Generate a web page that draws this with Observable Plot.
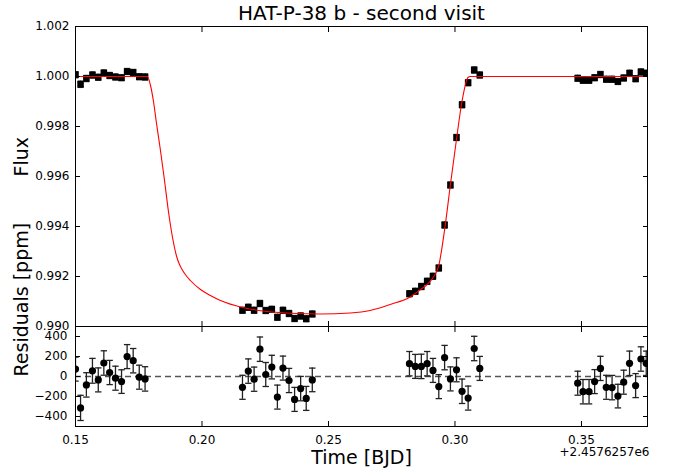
<!DOCTYPE html>
<html><head><meta charset="utf-8">
<script src="https://cdn.jsdelivr.net/npm/d3@7"></script>
<script src="https://cdn.jsdelivr.net/npm/@observablehq/plot@0.6"></script>
<style>
body{margin:0;background:#fff;font-family:"DejaVu Sans";}
#chart{position:relative;width:678px;height:470px;}
#chart svg{position:absolute;left:0;}
</style>
</head><body><div id="chart"></div>
<script>
// Observation times (BJD - 2457625.7)
const times = [
  0.1500, 0.1520, 0.1543, 0.1567, 0.1590, 0.1612, 0.1635, 0.1658, 0.1682, 0.1704, 0.1728, 0.1752, 0.1775,
  0.2160, 0.2183, 0.2206, 0.2229, 0.2252, 0.2276, 0.2298, 0.2320, 0.2344, 0.2366, 0.2390, 0.2412, 0.2436,
  0.2820, 0.2843, 0.2867, 0.2890, 0.2913, 0.2936, 0.2959, 0.2982, 0.3006, 0.3028, 0.3052, 0.3076, 0.3098,
  0.3485, 0.3506, 0.3530, 0.3552, 0.3575, 0.3598, 0.3621, 0.3644, 0.3667, 0.3690, 0.3714, 0.3735, 0.3756
];
// Relative flux
const flux = [
  1.00007, 0.99969, 0.99992, 1.00006, 0.99997, 1.00014, 1.00004, 0.99998, 0.99995, 1.00020, 1.00016, 0.99999, 0.99998,
  0.99065, 0.99077, 0.99065, 0.99092, 0.99064, 0.99069, 0.99037, 0.99065, 0.99052, 0.99032, 0.99042, 0.99031, 0.99050,
  0.99131, 0.99141, 0.99160, 0.99181, 0.99201, 0.99234, 0.99406, 0.99566, 0.99756, 0.99887, 0.99975, 1.00026, 1.00006,
  0.99993, 0.99985, 0.99985, 0.99995, 1.00008, 0.99989, 0.99989, 0.99980, 0.99994, 1.00013, 0.99991, 1.00018, 1.00013
];
// Residuals [ppm]
const residuals = [
  74, -314, -84, 57, -34, 135, 40, -17, -51, 199, 158, -7, -24,
  -108, 54, -27, 273, 20, 94, -206, 84, -40, -229, -121, -219, -34,
  128, 101, 101, 128, 61, -101, 189, -24, 67, -148, -216, 280, 81,
  -67, -152, -152, -51, 81, -108, -111, -196, -57, 132, -91, 175, 132
];
// Uncertainties [ppm]
const errors = [
  120, 126, 122, 124, 120, 122, 121, 120, 118, 120, 122, 120, 122,
  120, 122, 121, 122, 120, 118, 120, 120, 121, 120, 122, 120, 118,
  122, 120, 122, 122, 120, 120, 122, 120, 120, 122, 120, 122, 120,
  120, 122, 122, 120, 121, 120, 122, 118, 120, 122, 120, 122, 122
];
// Transit model curve
const modelTime = [
  0.1500, 0.1784, 0.1796, 0.1808, 0.1820, 0.1836, 0.1852, 0.1867, 0.1883, 0.1899, 0.1911, 0.1919,
  0.1934, 0.1954, 0.1994, 0.2033, 0.2073, 0.2160, 0.2242, 0.2349, 0.2468, 0.2586, 0.2665, 0.2744,
  0.2823, 0.2867, 0.2890, 0.2913, 0.2936, 0.2959, 0.2982, 0.3006, 0.3028, 0.3052, 0.3060, 0.3761
];
const modelFlux = [
  1.00000, 1.00000, 0.99966, 0.99902, 0.99814, 0.99703, 0.99583, 0.99463, 0.99359, 0.99283, 0.99248, 0.99232,
  0.99208, 0.99184, 0.99148, 0.99124, 0.99104, 0.99076, 0.99062, 0.99053, 0.99050, 0.99054, 0.99064, 0.99088,
  0.99118, 0.99150, 0.99168, 0.99195, 0.99244, 0.99387, 0.99568, 0.99749, 0.99902, 0.99997, 1.00000, 1.00000
];
const xTicks = [0.15, 0.20, 0.25, 0.30, 0.35];
const fluxTicks = [0.990, 0.992, 0.994, 0.996, 0.998, 1.000, 1.002];
const resTicks = [-400, -200, 0, 200, 400];
const xDomain = [0.15, 0.3761];

const obs = times.map((t, i) => ({t, f: flux[i], r: residuals[i], e: errors[i]}));
const model = modelTime.map((t, i) => ({t, f: modelFlux[i]}));

const cap = {draw(ctx, size) { const w = Math.sqrt(size / Math.PI); ctx.moveTo(-w, 0); ctx.lineTo(w, 0); }};
const font = "DejaVu Sans";
const baseStyle = {fontFamily: font, fontSize: "12px", background: "transparent", overflow: "visible", color: "black"};
const minus = d => d < 0 ? "\u2212" + Math.abs(d) : String(d);

const topPanel = Plot.plot({
  width: 678, height: 340,
  marginLeft: 75, marginRight: 31, marginTop: 26, marginBottom: 14,
  x: {domain: xDomain},
  y: {domain: [0.990, 1.002]},
  style: baseStyle,
  marks: [
    Plot.ruleX(obs, {x: "t", y1: d => d.f - d.e * 1e-6, y2: d => d.f + d.e * 1e-6, stroke: "#222", strokeWidth: 1.3, clip: true}),
    Plot.dot(obs, {x: "t", y: d => d.f - d.e * 1e-6, symbol: cap, r: 3, fill: "none", stroke: "#222", strokeWidth: 1.3, clip: true}),
    Plot.dot(obs, {x: "t", y: d => d.f + d.e * 1e-6, symbol: cap, r: 3, fill: "none", stroke: "#222", strokeWidth: 1.3, clip: true}),
    Plot.dot(obs, {x: "t", y: "f", symbol: "square", r: 3.7, fill: "black", stroke: "none", clip: true}),
    Plot.line(model, {x: "t", y: "f", stroke: "red", strokeWidth: 1.1, curve: "monotone-x", clip: true}),
    Plot.frame({stroke: "black", strokeWidth: 1}),
    Plot.axisY(fluxTicks, {anchor: "left", tickSize: -5, tickPadding: 11, tickFormat: d3.format(".3f"), label: null, fontSize: 12}),
    Plot.axisY(fluxTicks, {anchor: "right", tickSize: -5, tickFormat: () => "", label: null}),
    Plot.axisX(xTicks, {anchor: "bottom", tickSize: -5, tickFormat: () => "", label: null}),
    Plot.axisX(xTicks, {anchor: "top", tickSize: -5, tickFormat: () => "", label: null}),
    Plot.text(["HAT-P-38 b - second visit"], {frameAnchor: "top", lineAnchor: "middle", dy: -13, fontSize: 20}),
    Plot.text(["Flux"], {frameAnchor: "left", lineAnchor: "middle", dx: -54, rotate: -90, fontSize: 19})
  ]
});

const bottomPanel = Plot.plot({
  width: 678, height: 154,
  marginLeft: 75, marginRight: 31, marginTop: 10, marginBottom: 44,
  x: {domain: xDomain},
  y: {domain: [-500, 500]},
  style: baseStyle,
  marks: [
    Plot.ruleY([0], {stroke: "#555", strokeWidth: 1.3, strokeDasharray: "6,4"}),
    Plot.ruleX(obs, {x: "t", y1: d => d.r - d.e, y2: d => d.r + d.e, stroke: "#222", strokeWidth: 1.3, clip: true}),
    Plot.dot(obs, {x: "t", y: d => d.r - d.e, symbol: cap, r: 3.2, fill: "none", stroke: "#222", strokeWidth: 1.3, clip: true}),
    Plot.dot(obs, {x: "t", y: d => d.r + d.e, symbol: cap, r: 3.2, fill: "none", stroke: "#222", strokeWidth: 1.3, clip: true}),
    Plot.dot(obs, {x: "t", y: "r", r: 3.6, fill: "black", stroke: "none", clip: true}),
    Plot.frame({stroke: "black", strokeWidth: 1}),
    Plot.axisY(resTicks, {anchor: "left", tickSize: -5, tickPadding: 13, tickFormat: minus, label: null, fontSize: 12}),
    Plot.axisY(resTicks, {anchor: "right", tickSize: -5, tickFormat: () => "", label: null}),
    Plot.axisX(xTicks, {anchor: "bottom", tickSize: -5, tickPadding: 14, tickFormat: d3.format(".2f"), label: null, fontSize: 12}),
    Plot.axisX(xTicks, {anchor: "top", tickSize: -5, tickFormat: () => "", label: null}),
    Plot.text(["Time [BJD]"], {frameAnchor: "bottom", lineAnchor: "middle", dy: 31, fontSize: 19}),
    Plot.text(["+2.4576257e6"], {frameAnchor: "bottom-right", lineAnchor: "middle", textAnchor: "end", dx: 2, dy: 25.5, fontSize: 12}),
    Plot.text(["Residuals [ppm]"], {frameAnchor: "left", lineAnchor: "middle", dx: -54, rotate: -90, fontSize: 19})
  ]
});

topPanel.style.top = "0px";
bottomPanel.style.top = "316px";
const chart = document.getElementById("chart");
chart.appendChild(topPanel);
chart.appendChild(bottomPanel);
</script></body></html>
